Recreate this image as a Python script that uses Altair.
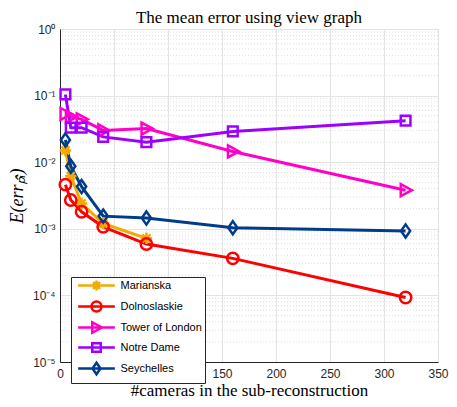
import altair as alt
import pandas as pd

# ---- data ----
series_names = ["Marianska", "Dolnoslaskie", "Tower of London", "Notre Dame", "Seychelles"]
cameras = [5, 10, 20, 40, 80, 160, 320]
marianska = [0.015, 0.0062, 0.0024, 0.0012, 0.00072]
dolnoslaskie = [0.0046, 0.0027, 0.0018, 0.00107, 0.00059, 0.00036, 0.000093]
tower = [0.053, 0.048, 0.044, 0.030, 0.032, 0.0145, 0.0038]
notre = [0.104, 0.033, 0.033, 0.024, 0.020, 0.029, 0.042]
seychelles = [0.0216, 0.0087, 0.0043, 0.00155, 0.00145, 0.00104, 0.00093]

x_ticks = [0, 50, 100, 150, 200, 250, 300, 350]
y_ticks = [1e-5, 1e-4, 1e-3, 1e-2, 1e-1, 1]
y_tick_labels = ["10⁻⁵", "10⁻⁴", "10⁻³", "10⁻²", "10⁻¹", "10⁰"]
minor_mult = [2, 3, 4, 5, 6, 7, 8, 9]

colors = ["#F2A900", "#FF0000", "#FF00C8", "#9E00FF", "#003C8C"]

# ---- tables ----
rows = []
for name, vals in zip(series_names, [marianska, dolnoslaskie, tower, notre, seychelles]):
    for xv, yv in zip(cameras, vals):
        rows.append({"series": name, "cameras": xv, "err": yv})
df = pd.DataFrame(rows)

minor_df = pd.DataFrame({"err": [m * t for t in y_ticks[:-1] for m in minor_mult]})

asterisk = "M0,-1V1M-1,0H1M-0.7,-0.7L0.7,0.7M-0.7,0.7L0.7,-0.7"
diamond = "M0,-1.15L0.8,0L0,1.15L-0.8,0Z"
tri = "M-0.85,-1.05L1.1,0L-0.85,1.05Z"
square = "M-0.85,-0.85H0.85V0.85H-0.85Z"
plot_shapes = [asterisk, "circle", tri, square, diamond]

# legend symbols: a line segment with the series marker (drawn at a smaller symbol size)
L = "M-4.9,0H4.9"
legend_shapes = [
    L + "M0,-1.33V1.33M-0.93,-0.93L0.93,0.93M-0.93,0.93L0.93,-0.93",
    L + "M1.33,0A1.33,1.33 0 1,1 -1.33,0A1.33,1.33 0 1,1 1.33,0",
    L + "M-1.13,-1.4L1.47,0L-1.13,1.4Z",
    L + "M-1.13,-1.13H1.13V1.13H-1.13Z",
    L + "M0,-1.53L1.07,0L0,1.53L-1.07,0Z",
]

axis_font = "Liberation Sans"
serif = "Liberation Serif"
label_expr = "[" + ",".join("'%s'" % s for s in y_tick_labels) + "][round(log(datum.value)/LN10)+5]"

xscale = alt.Scale(domain=[0, 350], nice=False, zero=False)
yscale = alt.Scale(type="log", domain=[1e-5, 1], nice=False)


def x_axis():
    return alt.Axis(values=x_ticks, title="#cameras in the sub-reconstruction",
                    titleFont=serif, titleFontSize=17, titleFontWeight="normal", titleColor="#000",
                    titlePadding=3, labelFont=axis_font, labelFontSize=12, labelColor="#262626",
                    labelPadding=6, labelFlush=False, ticks=False, domainColor="#262626",
                    domainWidth=1, gridColor="#e3e3e3", gridWidth=1)


def y_axis():
    return alt.Axis(values=y_ticks, labelExpr=label_expr, title="E(errₚ̂ᵢ)",
                    titleFont=serif, titleFontSize=18, titleFontWeight="normal", titleFontStyle="italic",
                    titleColor="#000", titlePadding=6, labelFont=axis_font, labelFontSize=12,
                    labelColor="#262626", labelPadding=5, labelFlush=False, ticks=False,
                    domainColor="#262626", domainWidth=1, gridColor="#e3e3e3", gridWidth=1)


col_scale = alt.Scale(domain=series_names, range=colors)

grid = alt.Chart(minor_df).mark_rule(strokeDash=[1, 2], color="#d6d6d6", strokeWidth=0.8).encode(
    y=alt.Y("err:Q", scale=yscale, axis=y_axis())
)

lines = alt.Chart(df).mark_line(strokeWidth=3).encode(
    x=alt.X("cameras:Q", scale=xscale, axis=x_axis()),
    y=alt.Y("err:Q", scale=yscale, axis=y_axis()),
    color=alt.Color("series:N", scale=col_scale, legend=None),
    detail="series:N",
)

points = alt.Chart(df).mark_point(filled=False, strokeWidth=2.5, size=130, opacity=1).encode(
    x=alt.X("cameras:Q", scale=xscale, axis=x_axis()),
    y=alt.Y("err:Q", scale=yscale, axis=y_axis()),
    color=alt.Color("series:N", scale=col_scale, legend=None),
    shape=alt.Shape("series:N", scale=alt.Scale(domain=series_names, range=plot_shapes), legend=None),
)

leg = alt.Chart(df).mark_point(filled=False, opacity=0, strokeWidth=3).encode(
    x=alt.X("cameras:Q", scale=xscale, axis=x_axis()),
    y=alt.Y("err:Q", scale=yscale, axis=y_axis()),
    color=alt.Color("series:N", scale=col_scale,
                    legend=alt.Legend(title=None, orient="none", legendX=11, legendY=248,
                                      symbolSize=56, symbolStrokeWidth=2.5, symbolOpacity=1,
                                      symbolFillColor="transparent",
                                      symbolOffset=17, labelOffset=18.5,
                                      labelFont=axis_font, labelFontSize=11, labelColor="#000",
                                      rowPadding=0, padding=3, strokeColor="#262626",
                                      fillColor="#ffffff", cornerRadius=0)),
    shape=alt.Shape("series:N", scale=alt.Scale(domain=series_names, range=legend_shapes)),
)

chart = alt.layer(grid, lines, points, leg).resolve_scale(
    color="independent", shape="independent"
).properties(
    width=378, height=333,
    padding={"left": 52, "top": 21, "right": 11, "bottom": 37},
    autosize=alt.AutoSizeParams(type="none"),
    title=alt.TitleParams("The mean error using view graph", font=serif, fontSize=17,
                          fontWeight="normal", color="#000", offset=-4),
).configure_view(stroke="#c8c8c8", strokeWidth=1).configure(background="white")

chart.save("out.html", embed_options={"renderer": "svg", "actions": False})
